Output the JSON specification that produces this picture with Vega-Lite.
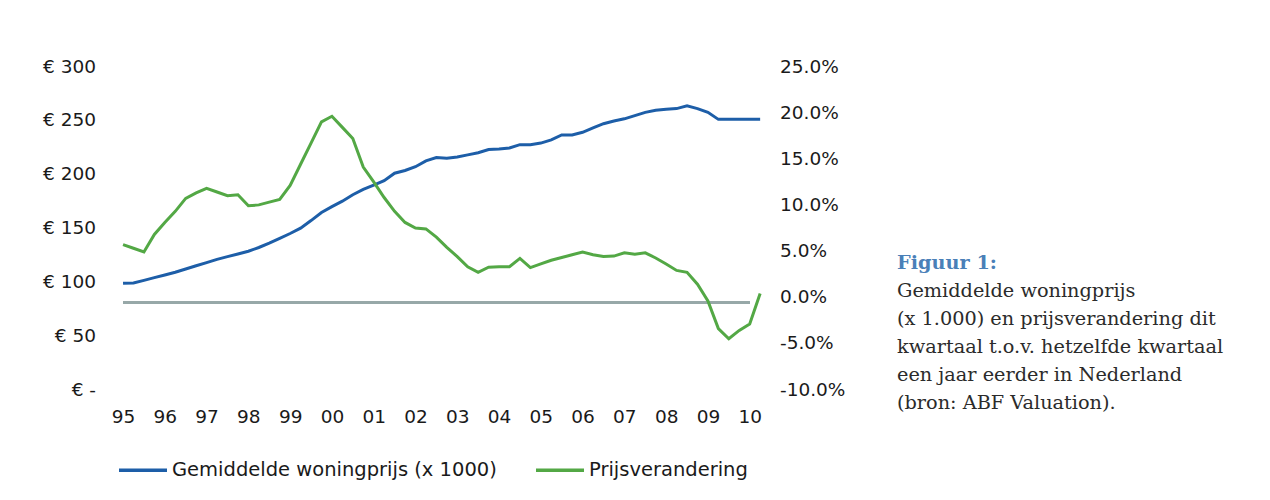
{
  "$schema": "https://vega.github.io/schema/vega-lite/v6.json",
  "background": "white",
  "padding": {"left": 42.5, "top": 57, "right": 5, "bottom": 5},
  "bounds": "flush",
  "spacing": 128.5,
  "config": {
    "view": {"stroke": null},
    "axis": {"labelFont": "DejaVu Sans", "labelFontSize": 18.5, "labelColor": "#1a1a1a", "domain": false, "ticks": false, "grid": false, "title": null}
  },
  "hconcat": [
    {
      "width": 658,
      "height": 323,
      "data": {"values": [
        {"jaar": 1995.00, "prijs": 103.7, "verandering": 6.3},
        {"jaar": 1995.25, "prijs": 104.0, "verandering": 5.9},
        {"jaar": 1995.50, "prijs": 106.5, "verandering": 5.5},
        {"jaar": 1995.75, "prijs": 109.0, "verandering": 7.4},
        {"jaar": 1996.00, "prijs": 111.5, "verandering": 8.7},
        {"jaar": 1996.25, "prijs": 114.0, "verandering": 9.9},
        {"jaar": 1996.50, "prijs": 117.0, "verandering": 11.3},
        {"jaar": 1996.75, "prijs": 120.0, "verandering": 11.9},
        {"jaar": 1997.00, "prijs": 123.0, "verandering": 12.4},
        {"jaar": 1997.25, "prijs": 126.0, "verandering": 12.0},
        {"jaar": 1997.50, "prijs": 128.5, "verandering": 11.6},
        {"jaar": 1997.75, "prijs": 131.0, "verandering": 11.7},
        {"jaar": 1998.00, "prijs": 133.5, "verandering": 10.5},
        {"jaar": 1998.25, "prijs": 137.0, "verandering": 10.6},
        {"jaar": 1998.50, "prijs": 141.0, "verandering": 10.9},
        {"jaar": 1998.75, "prijs": 145.5, "verandering": 11.2},
        {"jaar": 1999.00, "prijs": 150.0, "verandering": 12.7},
        {"jaar": 1999.25, "prijs": 155.0, "verandering": 15.0},
        {"jaar": 1999.50, "prijs": 162.0, "verandering": 17.3},
        {"jaar": 1999.75, "prijs": 169.5, "verandering": 19.6},
        {"jaar": 2000.00, "prijs": 175.0, "verandering": 20.2},
        {"jaar": 2000.25, "prijs": 180.0, "verandering": 19.0},
        {"jaar": 2000.50, "prijs": 186.0, "verandering": 17.8},
        {"jaar": 2000.75, "prijs": 191.0, "verandering": 14.7},
        {"jaar": 2001.00, "prijs": 195.0, "verandering": 13.1},
        {"jaar": 2001.25, "prijs": 199.0, "verandering": 11.4},
        {"jaar": 2001.50, "prijs": 206.0, "verandering": 9.9},
        {"jaar": 2001.75, "prijs": 208.5, "verandering": 8.7},
        {"jaar": 2002.00, "prijs": 212.0, "verandering": 8.1},
        {"jaar": 2002.25, "prijs": 217.5, "verandering": 8.0},
        {"jaar": 2002.50, "prijs": 220.5, "verandering": 7.1},
        {"jaar": 2002.75, "prijs": 220.0, "verandering": 6.0},
        {"jaar": 2003.00, "prijs": 221.0, "verandering": 5.0},
        {"jaar": 2003.25, "prijs": 223.0, "verandering": 3.9},
        {"jaar": 2003.50, "prijs": 225.0, "verandering": 3.3},
        {"jaar": 2003.75, "prijs": 228.0, "verandering": 3.85},
        {"jaar": 2004.00, "prijs": 228.5, "verandering": 3.9},
        {"jaar": 2004.25, "prijs": 229.5, "verandering": 3.9},
        {"jaar": 2004.50, "prijs": 232.5, "verandering": 4.8},
        {"jaar": 2004.75, "prijs": 232.5, "verandering": 3.8},
        {"jaar": 2005.00, "prijs": 234.0, "verandering": 4.2},
        {"jaar": 2005.25, "prijs": 237.0, "verandering": 4.6},
        {"jaar": 2005.50, "prijs": 241.5, "verandering": 4.9},
        {"jaar": 2005.75, "prijs": 241.5, "verandering": 5.2},
        {"jaar": 2006.00, "prijs": 244.0, "verandering": 5.5},
        {"jaar": 2006.25, "prijs": 248.0, "verandering": 5.2},
        {"jaar": 2006.50, "prijs": 252.0, "verandering": 5.0},
        {"jaar": 2006.75, "prijs": 254.5, "verandering": 5.05},
        {"jaar": 2007.00, "prijs": 256.5, "verandering": 5.4},
        {"jaar": 2007.25, "prijs": 259.5, "verandering": 5.25},
        {"jaar": 2007.50, "prijs": 262.5, "verandering": 5.4},
        {"jaar": 2007.75, "prijs": 264.5, "verandering": 4.85},
        {"jaar": 2008.00, "prijs": 265.5, "verandering": 4.2},
        {"jaar": 2008.25, "prijs": 266.0, "verandering": 3.5},
        {"jaar": 2008.50, "prijs": 268.5, "verandering": 3.3},
        {"jaar": 2008.75, "prijs": 266.0, "verandering": 2.0},
        {"jaar": 2009.00, "prijs": 262.5, "verandering": 0.2},
        {"jaar": 2009.25, "prijs": 256.0, "verandering": -2.8},
        {"jaar": 2009.50, "prijs": 256.0, "verandering": -3.9},
        {"jaar": 2009.75, "prijs": 256.0, "verandering": -3.0},
        {"jaar": 2010.00, "prijs": 256.0, "verandering": -2.3},
        {"jaar": 2010.25, "prijs": 256.0, "verandering": 1.0}
      ]},
      "layer": [
        {
          "mark": {"type": "line", "strokeWidth": 3},
          "encoding": {
            "x": {"field": "jaar", "type": "quantitative",
                  "scale": {"domain": [1994.7, 2010.45], "nice": false, "zero": false},
                  "axis": {"values": [1995,1996,1997,1998,1999,2000,2001,2002,2003,2004,2005,2006,2007,2008,2009,2010],
                           "labelExpr": "substring(toString(datum.value), 2, 4)", "labelPadding": 12, "labelFlush": false}},
            "y": {"field": "prijs", "type": "quantitative",
                  "scale": {"domain": [0, 300], "nice": false},
                  "axis": {"orient": "left", "values": [0,50,100,150,200,250,300],
                           "labelExpr": "datum.value == 0 ? '€ -' : '€ ' + datum.value",
                           "labelPadding": 15, "labelOffset": -6}},
            "color": {"datum": "Gemiddelde woningprijs (x 1000)",
                      "scale": {"domain": ["Gemiddelde woningprijs (x 1000)", "Prijsverandering"], "range": ["#1d5ea8", "#53a845"]},
                      "legend": {"orient": "none", "legendX": 6.5, "legendY": 372, "direction": "horizontal", "title": null,
                                 "symbolType": "stroke", "symbolSize": 2304, "symbolStrokeWidth": 3.5,
                                 "labelFont": "DejaVu Sans", "labelFontSize": 19.5, "labelColor": "#1a1a1a",
                                 "labelOffset": 3, "columnPadding": 32, "labelLimit": 600}}
          }
        },
        {
          "layer": [
            {
              "mark": {"type": "rule", "color": "#97a8a8", "strokeWidth": 2},
              "encoding": {
                "x": {"datum": 1995, "type": "quantitative"},
                "x2": {"datum": 2010},
                "y": {"datum": 0, "type": "quantitative"}
              }
            },
            {
              "mark": {"type": "line", "strokeWidth": 3},
              "encoding": {
                "x": {"field": "jaar", "type": "quantitative"},
                "y": {"field": "verandering", "type": "quantitative",
                      "scale": {"domain": [-10, 25], "nice": false, "zero": false},
                      "axis": {"orient": "right", "values": [-10,-5,0,5,10,15,20,25],
                               "labelExpr": "(datum.value < 0 ? '-' : '') + format(abs(datum.value), '.1f') + '%'",
                               "labelPadding": 11, "labelOffset": -6, "labelAlign": "left"}},
                "color": {"datum": "Prijsverandering"}
              }
            }
          ]
        }
      ],
      "resolve": {"scale": {"y": "independent"}, "axis": {"y": "independent"}}
    },
    {
      "width": 340,
      "height": 331,
      "data": {"values": [
        {"regel": 0, "tekst": "Figuur 1:"},
        {"regel": 1, "tekst": "Gemiddelde woningprijs"},
        {"regel": 2, "tekst": "(x 1.000) en prijsverandering dit"},
        {"regel": 3, "tekst": "kwartaal t.o.v. hetzelfde kwartaal"},
        {"regel": 4, "tekst": "een jaar eerder in Nederland"},
        {"regel": 5, "tekst": "(bron: ABF Valuation)."}
      ]},
      "encoding": {
        "x": {"datum": 0, "type": "quantitative", "scale": {"domain": [0, 1]}, "axis": null},
        "y": {"field": "regel", "type": "quantitative", "scale": {"domain": [-6.82, 5], "reverse": true, "nice": false, "zero": false}, "axis": null},
        "text": {"field": "tekst"}
      },
      "layer": [
        {
          "transform": [{"filter": "datum.regel == 0"}],
          "mark": {"type": "text", "align": "left", "baseline": "middle", "font": "DejaVu Serif", "fontSize": 19.3, "fontWeight": "bold", "color": "#4a80b8"}
        },
        {
          "transform": [{"filter": "datum.regel > 0"}],
          "mark": {"type": "text", "align": "left", "baseline": "middle", "font": "DejaVu Serif", "fontSize": 19.3, "color": "#2b2b2b"}
        }
      ]
    }
  ]
}
